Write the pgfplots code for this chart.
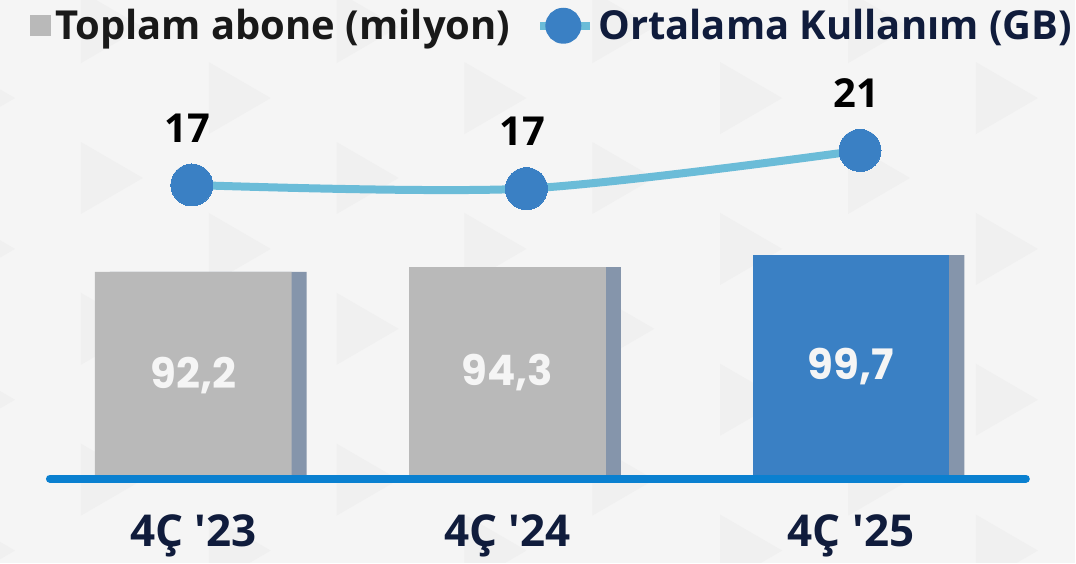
\documentclass[border=0pt]{standalone}
\usepackage{fontspec}
\setmainfont{Open Sans}
\newfontfamily\pop{Poppins}
\usepackage{pgfplots}
\pgfplotsset{compat=1.18}

\definecolor{bg}{HTML}{F5F5F5}
\definecolor{tri}{HTML}{F0F0F0}
\definecolor{barg}{HTML}{B9B9B9}
\definecolor{barb}{HTML}{3A80C4}
\definecolor{shadow}{HTML}{8595AB}
\definecolor{base}{HTML}{0A80D0}
\definecolor{linec}{HTML}{6BBCD8}
\definecolor{markc}{HTML}{3A80C4}
\definecolor{navy}{HTML}{101C3C}

% 1 px of the reference = 0.5pt
\begin{document}
\begin{tikzpicture}
% background with faint play triangles
\fill[bg] (0,0) rectangle (538pt,281.5pt);
\begin{scope}[x=0.5pt,y=-0.5pt,shift={(0,281.5pt)}]
  \clip (0,0) rectangle (1076,563);
  \foreach \i in {-1,...,8}{
    \pgfmathsetmacro{\xo}{81+128*\i}
    \pgfmathsetmacro{\yo}{isodd(\i) ? 62 : 142}
    \foreach \j in {-1,...,3}{
      \fill[tri] (\xo,\yo+151*\j) -- ++(62,36) -- ++(-62,36) -- cycle;
    }
  }
\end{scope}

% bars
\begin{axis}[
  at={(0,0)}, anchor=south west,
  scale only axis, width=538pt, height=281.5pt,
  xmin=0, xmax=1076, ymin=-37.4, ymax=213.3,
  clip=false,
  axis line style={draw=none},
  major tick length=0pt,
  ytick=\empty,
  xtick={193.5,508,852},
  xticklabels={4Ç \textquotesingle23,4Ç \textquotesingle24,4Ç \textquotesingle25},
  xticklabel style={anchor=base, yshift=8pt, text=navy,
    font=\bfseries\fontsize{22}{26}\selectfont},
  point meta=explicit symbolic,
  visualization depends on={y \as \rawy},
  every node near coord/.append style={anchor=center,
    shift={(axis direction cs:0,-\rawy/2)},
    text=bg, font=\pop\bfseries\fontsize{21}{24}\selectfont},
]
% shadow behind each bar
\addplot[ybar, bar width=197, bar shift=15, fill=shadow, draw=none]
  coordinates {(193.5,92.2) (508,94.3) (852,99.7)};
\addplot[ybar, bar width=197, bar shift=0, fill=barg, draw=none,
  nodes near coords]
  coordinates {(193.5,92.2) [92,2] (508,94.3) [94,3]};
\addplot[ybar, bar width=197, bar shift=0, fill=barb, draw=none,
  nodes near coords]
  coordinates {(852,99.7) [99,7]};
\draw[base, line width=4pt, line cap=round]
  (axis cs:50,0) -- (axis cs:1027,0);
\end{axis}

% line on its own scale
\begin{axis}[
  at={(0,0)}, anchor=south west,
  scale only axis, width=538pt, height=281.5pt,
  xmin=0, xmax=1076, ymin=-24.34, ymax=37.53,
  clip=false, hide axis,
  legend columns=2,
  legend cell align=left,
  legend style={at={(rel axis cs:0.028,0.992)}, anchor=north west,
    draw=none, fill=none, inner sep=0pt,
    font=\bfseries\fontsize{20}{23}\selectfont,
    /tikz/every even column/.append style={column sep=11pt}},
]
\addlegendimage{legend image code/.code={
  \fill[barg] (0pt,-5pt) rectangle (10pt,5pt);}}
\addlegendentry[text=black!90]{Toplam abone (milyon)}
\addplot[linec, line width=4pt, smooth,
  mark=*, mark size=10.5pt,
  mark options={fill=markc, draw=markc, line width=0pt},
  nodes near coords, point meta=explicit symbolic,
  every node near coord/.append style={anchor=center, yshift=28.5pt,
    xshift=-2pt, text=black, font=\bfseries\fontsize{20}{24}\selectfont},
  legend image code/.code={
    \draw[linec, line width=4pt] (0pt,0pt) -- (25pt,0pt);
    \fill[markc] (11.5pt,0pt) circle (7pt);}]
  coordinates {(192,17.2) [17] (527,16.8) [17] (861,21.0) [21]};
\addlegendentry[text=navy]{Ortalama Kullanım (GB)}
\end{axis}
\end{tikzpicture}
\end{document}
